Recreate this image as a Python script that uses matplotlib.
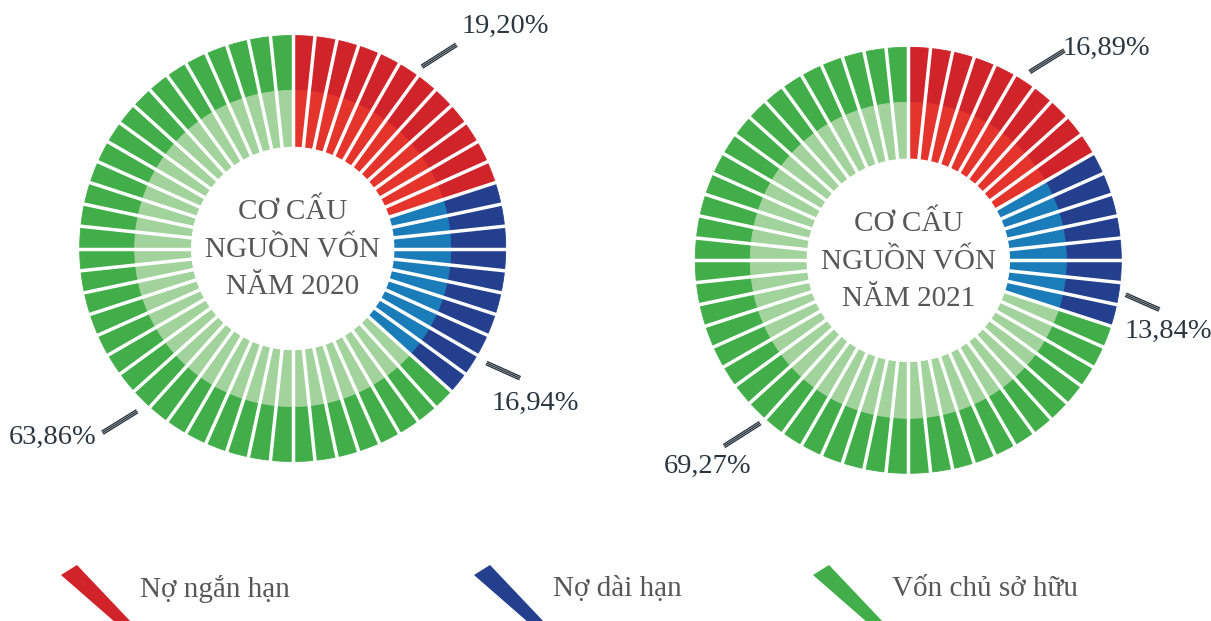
import numpy as np
import matplotlib
matplotlib.use("Agg")
from matplotlib import pyplot as plt
from matplotlib.patches import Wedge, Polygon

plt.rcParams['font.family'] = ['Liberation Serif', 'DejaVu Serif']

# data
categories = ['Nợ ngắn hạn', 'Nợ dài hạn', 'Vốn chủ sở hữu']
years = ['2020', '2021']
share_2020 = [19.20, 16.94, 63.86]
share_2021 = [16.89, 13.84, 69.27]
pct_labels_2020 = ['19,20%', '16,94%', '63,86%']
pct_labels_2021 = ['16,89%', '13,84%', '69,27%']

dark = ['#d1232a', '#233f8e', '#42ae4a']
light = ['#e4342c', '#1b7cba', '#a2d39c']
line_col = '#2a3640'
text_col = '#575757'

N_BARS = 60
R_OUT, R_MID, R_IN = 213, 158, 101

W, H = 1211, 621
fig = plt.figure(figsize=(W / 100, H / 100), dpi=100)
ax = fig.add_axes([0, 0, 1, 1])
ax.set_xlim(0, W)
ax.set_ylim(H, 0)
ax.set_aspect('equal')
ax.axis('off')


def pol(cx, cy, r, ang):
    # ang measured clockwise from 12 o'clock (y axis points down)
    a = np.radians(ang - 90)
    return cx + r * np.cos(a), cy + r * np.sin(a)


def tick(x0, y0, direction, length):
    # hatched double tick: three thin parallel strokes
    d = np.radians(direction - 90)
    ux, uy = np.cos(d), np.sin(d)
    px, py = -uy, ux
    for off in (-1.7, 0, 1.7):
        ax.plot([x0 + off * px, x0 + length * ux + off * px],
                [y0 + off * py, y0 + length * uy + off * py],
                color=line_col, lw=1.0, solid_capstyle='butt')


def donut(cx, cy, shares, labels, year, ticks, label_xy):
    counts = [int(round(s * N_BARS / 100)) for s in shares]
    cat_of_bar = np.repeat(np.arange(len(shares)), counts)
    step = 360. / N_BARS
    for i, c in enumerate(cat_of_bar):
        t1 = i * step - 90
        t2 = (i + 1) * step - 90
        ax.add_patch(Wedge((cx, cy), R_OUT, t1, t2, width=R_OUT - R_MID,
                           facecolor=dark[c], edgecolor=dark[c], lw=0.6))
        ax.add_patch(Wedge((cx, cy), R_MID, t1, t2, width=R_MID - R_IN,
                           facecolor=light[c], edgecolor=light[c], lw=0.6))
    # white gaps between bars
    for i in range(N_BARS):
        x1, y1 = pol(cx, cy, R_IN - 3, i * step)
        x2, y2 = pol(cx, cy, R_OUT + 3, i * step)
        ax.plot([x1, x2], [y1, y2], color='white', lw=2.5, solid_capstyle='butt')
    ax.add_patch(plt.Circle((cx, cy), R_IN, color='white'))

    ax.text(cx, cy + 1, 'CƠ CẤU\nNGUỒN VỐN\nNĂM ' + year, ha='center', va='center',
            fontsize=21, color=text_col, linespacing=1.55)

    for (ang, r, direction, length), lab, (tx, ty) in zip(ticks, labels, label_xy):
        x0, y0 = pol(cx, cy, r, ang)
        tick(x0, y0, direction, length)
        ax.text(tx, ty, lab, ha='center', va='center', fontsize=20.5, color=line_col)


donut(292.7, 248.5, share_2020, pct_labels_2020, years[0],
      [(35.4, 223, 57.5, 41), (120.6, 225, 114.2, 37), (223.7, 225, 238.2, 41)],
      [(505, 26), (535, 403), (53, 437)])
donut(908.3, 260.3, share_2021, pct_labels_2021, years[1],
      [(32.8, 224, 58.2, 41), (99.0, 220, 113.8, 37), (222.3, 220, 237.5, 43)],
      [(1106, 48), (1168, 331), (708, 466)])

# legend
leg_x = [61, 474, 813]
for x0, name, col in zip(leg_x, categories, dark):
    ax.add_patch(Polygon([(x0, 575), (x0 + 16, 565), (x0 + 71, 623), (x0 + 55, 623)],
                         closed=True, facecolor=col, edgecolor='none'))
    ax.text(x0 + 79, 589, name, ha='left', va='center', fontsize=21, color=text_col)

fig.savefig('out.png', dpi=100)
